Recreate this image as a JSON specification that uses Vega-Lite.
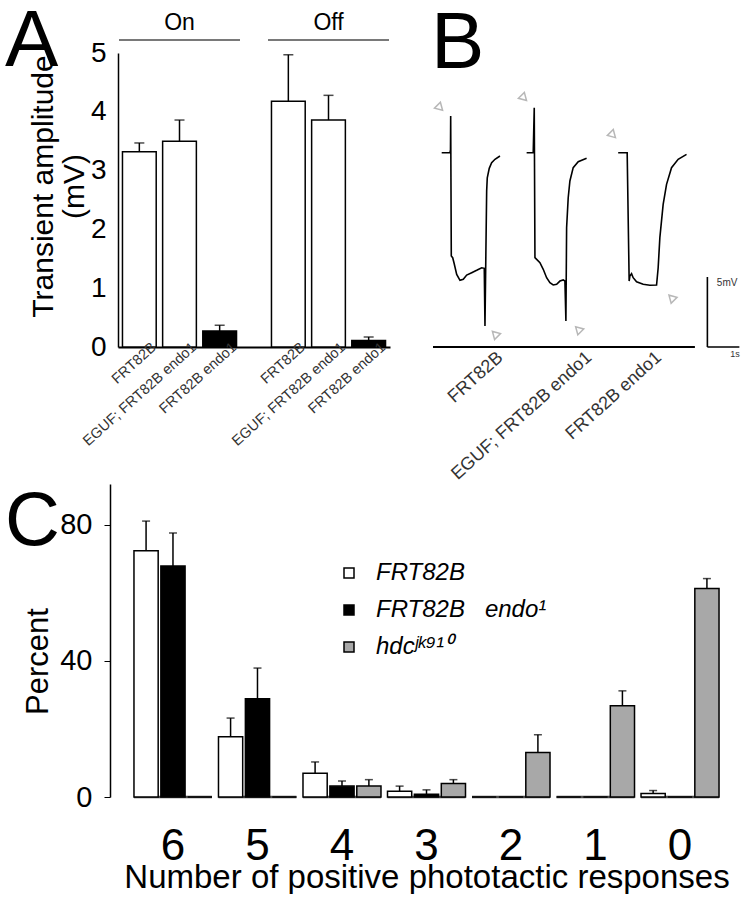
{
  "$schema": "https://vega.github.io/schema/vega-lite/v6.json",
  "background": "white",
  "padding": {"left": 5, "top": 2, "right": 0, "bottom": 0},
  "bounds": "full",
  "spacing": 0,
  "resolve": {"scale": {"xOffset": "independent", "fill": "independent", "shape": "independent"}},
  "config": {
    "view": {"stroke": null},
    "font": "Liberation Sans",
    "axis": {"labelColor": "black", "titleColor": "black", "domainColor": "black", "tickColor": "black", "grid": false, "titleFontWeight": "normal", "labelFont": "Liberation Sans", "titleFont": "Liberation Sans"},
    "title": {"fontSize": 80, "fontWeight": "normal", "anchor": "start", "frame": "group", "offset": 0, "color": "black", "font": "Liberation Sans"}
  },
  "datasets": {
    "a": [
      {"cond": "On", "geno": "FRT82B", "mean": 3.32, "hi": 3.47},
      {"cond": "On", "geno": "EGUF; FRT82B endo1", "mean": 3.50, "hi": 3.86},
      {"cond": "On", "geno": "FRT82B endo1", "mean": 0.27, "hi": 0.37},
      {"cond": "Off", "geno": "FRT82B", "mean": 4.18, "hi": 4.97},
      {"cond": "Off", "geno": "EGUF; FRT82B endo1", "mean": 3.86, "hi": 4.28},
      {"cond": "Off", "geno": "FRT82B endo1", "mean": 0.11, "hi": 0.17}
    ],
    "traces": [
      {"trace": 1, "i": 1, "t": 0.272, "v": 13.88},
      {"trace": 1, "i": 2, "t": 0.531, "v": 13.88},
      {"trace": 1, "i": 3, "t": 0.547, "v": 14.07},
      {"trace": 1, "i": 4, "t": 0.553, "v": 16.5},
      {"trace": 1, "i": 5, "t": 0.572, "v": 6.5},
      {"trace": 1, "i": 6, "t": 0.616, "v": 6.38},
      {"trace": 1, "i": 7, "t": 0.656, "v": 6.02},
      {"trace": 1, "i": 8, "t": 0.741, "v": 5.19},
      {"trace": 1, "i": 9, "t": 0.844, "v": 4.76},
      {"trace": 1, "i": 10, "t": 0.947, "v": 4.84},
      {"trace": 1, "i": 11, "t": 1.053, "v": 5.14},
      {"trace": 1, "i": 12, "t": 1.209, "v": 5.31},
      {"trace": 1, "i": 13, "t": 1.366, "v": 5.48},
      {"trace": 1, "i": 14, "t": 1.522, "v": 5.66},
      {"trace": 1, "i": 15, "t": 1.603, "v": 5.62},
      {"trace": 1, "i": 16, "t": 1.625, "v": 1.5},
      {"trace": 1, "i": 17, "t": 1.678, "v": 11.14},
      {"trace": 1, "i": 18, "t": 1.697, "v": 12.09},
      {"trace": 1, "i": 19, "t": 1.759, "v": 12.76},
      {"trace": 1, "i": 20, "t": 1.834, "v": 13.16},
      {"trace": 1, "i": 21, "t": 1.938, "v": 13.41},
      {"trace": 1, "i": 22, "t": 2.094, "v": 13.64},
      {"trace": 2, "i": 1, "t": 2.928, "v": 13.88},
      {"trace": 2, "i": 2, "t": 3.134, "v": 13.88},
      {"trace": 2, "i": 3, "t": 3.166, "v": 17.09},
      {"trace": 2, "i": 4, "t": 3.188, "v": 6.38},
      {"trace": 2, "i": 5, "t": 3.241, "v": 6.26},
      {"trace": 2, "i": 6, "t": 3.344, "v": 6.02},
      {"trace": 2, "i": 7, "t": 3.447, "v": 5.55},
      {"trace": 2, "i": 8, "t": 3.553, "v": 4.95},
      {"trace": 2, "i": 9, "t": 3.656, "v": 4.59},
      {"trace": 2, "i": 10, "t": 3.759, "v": 4.43},
      {"trace": 2, "i": 11, "t": 3.866, "v": 4.48},
      {"trace": 2, "i": 12, "t": 3.969, "v": 4.71},
      {"trace": 2, "i": 13, "t": 4.072, "v": 4.79},
      {"trace": 2, "i": 14, "t": 4.125, "v": 4.71},
      {"trace": 2, "i": 15, "t": 4.156, "v": 1.86},
      {"trace": 2, "i": 16, "t": 4.178, "v": 8.52},
      {"trace": 2, "i": 17, "t": 4.228, "v": 10.66},
      {"trace": 2, "i": 18, "t": 4.281, "v": 11.86},
      {"trace": 2, "i": 19, "t": 4.384, "v": 12.81},
      {"trace": 2, "i": 20, "t": 4.541, "v": 13.24},
      {"trace": 2, "i": 21, "t": 4.803, "v": 13.48},
      {"trace": 3, "i": 1, "t": 5.791, "v": 13.88},
      {"trace": 3, "i": 2, "t": 6.072, "v": 13.88},
      {"trace": 3, "i": 3, "t": 6.134, "v": 4.71},
      {"trace": 3, "i": 4, "t": 6.156, "v": 5.07},
      {"trace": 3, "i": 5, "t": 6.209, "v": 5.24},
      {"trace": 3, "i": 6, "t": 6.259, "v": 4.95},
      {"trace": 3, "i": 7, "t": 6.366, "v": 4.66},
      {"trace": 3, "i": 8, "t": 6.572, "v": 4.48},
      {"trace": 3, "i": 9, "t": 6.781, "v": 4.41},
      {"trace": 3, "i": 10, "t": 6.991, "v": 4.43},
      {"trace": 3, "i": 11, "t": 7.041, "v": 5.66},
      {"trace": 3, "i": 12, "t": 7.094, "v": 7.81},
      {"trace": 3, "i": 13, "t": 7.197, "v": 10.19},
      {"trace": 3, "i": 14, "t": 7.303, "v": 11.62},
      {"trace": 3, "i": 15, "t": 7.459, "v": 12.81},
      {"trace": 3, "i": 16, "t": 7.666, "v": 13.41},
      {"trace": 3, "i": 17, "t": 7.928, "v": 13.76}
    ],
    "arrows": [
      {"t": 0.219, "v": 17.09, "dir": "down"},
      {"t": 1.938, "v": 0.93, "dir": "up"},
      {"t": 2.844, "v": 17.79, "dir": "down"},
      {"t": 4.541, "v": 1.26, "dir": "up"},
      {"t": 5.625, "v": 15.14, "dir": "down"},
      {"t": 7.459, "v": 3.52, "dir": "up"}
    ],
    "c": [
      {"g": "6", "s": "FRT82B", "val": 72.4, "hi": 81.1},
      {"g": "6", "s": "FRT82B  endo¹", "val": 67.9, "hi": 77.6},
      {"g": "6", "s": "hdcʲᵏ⁹¹⁰", "val": 0, "hi": 0},
      {"g": "5", "s": "FRT82B", "val": 17.7, "hi": 23.2},
      {"g": "5", "s": "FRT82B  endo¹", "val": 28.9, "hi": 37.9},
      {"g": "5", "s": "hdcʲᵏ⁹¹⁰", "val": 0, "hi": 0},
      {"g": "4", "s": "FRT82B", "val": 7.0, "hi": 10.3},
      {"g": "4", "s": "FRT82B  endo¹", "val": 3.2, "hi": 4.7},
      {"g": "4", "s": "hdcʲᵏ⁹¹⁰", "val": 3.2, "hi": 5.1},
      {"g": "3", "s": "FRT82B", "val": 1.7, "hi": 3.2},
      {"g": "3", "s": "FRT82B  endo¹", "val": 0.8, "hi": 2.1},
      {"g": "3", "s": "hdcʲᵏ⁹¹⁰", "val": 4.0, "hi": 5.1},
      {"g": "2", "s": "FRT82B", "val": 0, "hi": 0},
      {"g": "2", "s": "FRT82B  endo¹", "val": 0, "hi": 0},
      {"g": "2", "s": "hdcʲᵏ⁹¹⁰", "val": 13.1, "hi": 18.3},
      {"g": "1", "s": "FRT82B", "val": 0, "hi": 0},
      {"g": "1", "s": "FRT82B  endo¹", "val": 0, "hi": 0},
      {"g": "1", "s": "hdcʲᵏ⁹¹⁰", "val": 26.8, "hi": 31.2},
      {"g": "0", "s": "FRT82B", "val": 1.0, "hi": 1.9},
      {"g": "0", "s": "FRT82B  endo¹", "val": 0, "hi": 0},
      {"g": "0", "s": "hdcʲᵏ⁹¹⁰", "val": 61.3, "hi": 64.2}
    ]
  },
  "vconcat": [
    {
      "hconcat": [
        {
          "width": 272,
          "height": 294,
          "title": {"text": "A", "dx": -113, "dy": 75},
          "encoding": {
            "x": {"field": "cond", "type": "nominal", "sort": ["On", "Off"], "scale": {"paddingInner": 0.2345, "paddingOuter": 0.03}, "axis": {"title": null, "labels": false, "ticks": false, "domain": true, "domainWidth": 2}}
          },
          "layer": [
            {
              "data": {"name": "a"},
              "mark": {"type": "bar", "stroke": "black", "strokeWidth": 1.5},
              "encoding": {
                "xOffset": {"field": "geno", "type": "nominal", "sort": ["FRT82B", "EGUF; FRT82B endo1", "FRT82B endo1"], "scale": {"paddingInner": 0.16, "paddingOuter": 0}},
                "y": {"field": "mean", "type": "quantitative", "scale": {"domain": [0, 5], "nice": false}, "axis": {"title": ["Transient amplitude", "(mV)"], "titleFontSize": 30, "titleLineHeight": 31, "titlePadding": 1, "titleY": 133, "values": [0, 1, 2, 3, 4, 5], "format": "d", "labelFontSize": 28, "labelPadding": 12, "ticks": false, "domainWidth": 1.5}},
                "fill": {"field": "geno", "type": "nominal", "scale": {"domain": ["FRT82B", "EGUF; FRT82B endo1", "FRT82B endo1"], "range": ["white", "white", "black"]}, "legend": null}
              }
            },
            {
              "data": {"name": "a"},
              "mark": {"type": "rule", "strokeWidth": 1.5, "color": "black"},
              "encoding": {
                "xOffset": {"field": "geno", "type": "nominal", "sort": ["FRT82B", "EGUF; FRT82B endo1", "FRT82B endo1"]},
                "y": {"field": "mean", "type": "quantitative"},
                "y2": {"field": "hi"}
              }
            },
            {
              "data": {"name": "a"},
              "mark": {"type": "tick", "orient": "horizontal", "size": 10, "thickness": 1.5, "color": "black"},
              "encoding": {
                "xOffset": {"field": "geno", "type": "nominal", "sort": ["FRT82B", "EGUF; FRT82B endo1", "FRT82B endo1"]},
                "y": {"field": "hi", "type": "quantitative"}
              }
            },
            {
              "data": {"name": "a"},
              "mark": {"type": "text", "angle": -42, "align": "right", "baseline": "middle", "dx": 12, "dy": 9, "fontSize": 14.5, "color": "#333"},
              "encoding": {
                "xOffset": {"field": "geno", "type": "nominal", "sort": ["FRT82B", "EGUF; FRT82B endo1", "FRT82B endo1"]},
                "y": {"datum": 0, "type": "quantitative"},
                "text": {"field": "geno"}
              }
            },
            {
              "data": {"values": [{"cond": "On"}, {"cond": "Off"}]},
              "mark": {"type": "text", "fontSize": 23, "baseline": "middle", "color": "black"},
              "encoding": {"y": {"datum": 5.51, "type": "quantitative"}, "text": {"field": "cond"}}
            },
            {
              "data": {"values": [{"cond": "On"}, {"cond": "Off"}]},
              "mark": {"type": "tick", "orient": "horizontal", "size": 121, "thickness": 1.5, "color": "black"},
              "encoding": {"y": {"datum": 5.22, "type": "quantitative"}}
            }
          ]
        },
        {
          "width": 307,
          "height": 294,
          "title": {"text": "B", "dx": -2, "dy": 36},
          "encoding": {
            "x": {"type": "quantitative", "scale": {"domain": [0, 9.6], "nice": false, "zero": false}, "axis": null},
            "y": {"type": "quantitative", "scale": {"domain": [0, 21], "nice": false}, "axis": null}
          },
          "layer": [
            {
              "data": {"values": [{"t0": 0, "t1": 8.19, "v": 0}]},
              "mark": {"type": "rule", "strokeWidth": 2, "color": "black"},
              "encoding": {"x": {"field": "t0", "type": "quantitative"}, "x2": {"field": "t1"}, "y": {"field": "v", "type": "quantitative"}}
            },
            {
              "data": {"name": "traces"},
              "mark": {"type": "line", "color": "black", "strokeWidth": 1.6},
              "encoding": {"x": {"field": "t", "type": "quantitative"}, "y": {"field": "v", "type": "quantitative"}, "detail": {"field": "trace"}, "order": {"field": "i"}}
            },
            {
              "data": {"name": "arrows"},
              "mark": {"type": "point", "filled": false, "angle": -45, "size": 70, "strokeWidth": 1.5, "color": "#9a9a9a"},
              "encoding": {"x": {"field": "t", "type": "quantitative"}, "y": {"field": "v", "type": "quantitative"}, "shape": {"field": "dir", "type": "nominal", "scale": {"domain": ["down", "up"], "range": ["triangle-down", "triangle-up"]}, "legend": null}}
            },
            {
              "data": {"values": [{"x1": 8.58, "x2": 8.58, "y1": 0, "y2": 5}, {"x1": 8.58, "x2": 9.58, "y1": 0, "y2": 0}]},
              "mark": {"type": "rule", "strokeWidth": 1.6, "color": "black"},
              "encoding": {"x": {"field": "x1", "type": "quantitative"}, "x2": {"field": "x2"}, "y": {"field": "y1", "type": "quantitative"}, "y2": {"field": "y2"}}
            },
            {
              "data": {"values": [{"t": 8.875, "v": 4.57, "lab": "5mV"}]},
              "mark": {"type": "text", "align": "left", "baseline": "middle", "fontSize": 10, "color": "#333"},
              "encoding": {"x": {"field": "t", "type": "quantitative"}, "y": {"field": "v", "type": "quantitative"}, "text": {"field": "lab"}}
            },
            {
              "data": {"values": [{"t": 9.44, "v": 0, "lab": "1s"}]},
              "mark": {"type": "text", "align": "center", "baseline": "top", "dy": 3, "fontSize": 9, "color": "#333"},
              "encoding": {"x": {"field": "t", "type": "quantitative"}, "y": {"field": "v", "type": "quantitative"}, "text": {"field": "lab"}}
            },
            {
              "data": {"values": [{"t": 1.88, "v": 0, "lab": "FRT82B"}, {"t": 4.66, "v": 0, "lab": "EGUF; FRT82B endo1"}, {"t": 6.84, "v": 0, "lab": "FRT82B endo1"}]},
              "mark": {"type": "text", "angle": -42, "align": "right", "baseline": "middle", "dy": 11, "fontSize": 18, "color": "#333"},
              "encoding": {"x": {"field": "t", "type": "quantitative"}, "y": {"field": "v", "type": "quantitative"}, "text": {"field": "lab"}}
            }
          ]
        }
      ],
      "spacing": 43,
      "bounds": "flush",
      "resolve": {"scale": {"xOffset": "independent", "fill": "independent", "shape": "independent"}}
    },
    {
      "width": 617,
      "height": 313,
      "title": {"text": "C", "dx": -113, "dy": 81, "fontSize": 76},
      "encoding": {
        "x": {"field": "g", "type": "nominal", "sort": ["6", "5", "4", "3", "2", "1", "0"], "scale": {"paddingInner": 0.077, "paddingOuter": 0.189}, "axis": {"title": "Number of positive phototactic responses", "titleFontSize": 33, "titlePadding": -7, "labelFontSize": 44, "labelAngle": 0, "labelPadding": 27, "ticks": false, "domain": false}}
      },
      "layer": [
        {
          "data": {"values": [{"g": "6"}, {"g": "5"}, {"g": "4"}, {"g": "3"}, {"g": "2"}, {"g": "1"}, {"g": "0"}]},
          "mark": {"type": "tick", "orient": "horizontal", "size": 78, "thickness": 2.5, "color": "black"},
          "encoding": {"y": {"datum": 0, "type": "quantitative"}}
        },
        {
          "data": {"name": "c"},
          "mark": {"type": "bar", "stroke": "black", "strokeWidth": 1.5},
          "encoding": {
            "xOffset": {"field": "s", "type": "nominal", "sort": ["FRT82B", "FRT82B  endo¹", "hdcʲᵏ⁹¹⁰"], "scale": {"paddingInner": 0.1, "paddingOuter": 0}},
            "y": {"field": "val", "type": "quantitative", "scale": {"domain": [0, 92], "nice": false}, "axis": {"title": "Percent", "titleFontSize": 31, "titlePadding": 5, "titleY": 177, "values": [0, 40, 80], "labelFontSize": 29, "labelPadding": 12, "tickSize": 6, "offset": 8, "domainWidth": 1.5}},
            "fill": {"field": "s", "type": "nominal", "scale": {"domain": ["FRT82B", "FRT82B  endo¹", "hdcʲᵏ⁹¹⁰"], "range": ["white", "black", "#a8a8a8"]}, "legend": {"title": null, "orient": "none", "legendX": 219, "legendY": 77, "symbolType": "square", "symbolSize": 100, "symbolStrokeColor": "black", "symbolStrokeWidth": 1.5, "labelFontSize": 24, "labelFontStyle": "italic", "labelColor": "black", "labelOffset": 15, "rowPadding": 13, "labelLimit": 300, "labelExpr": "replace(datum.label, '  ', '\u00a0\u00a0\u00a0')"}}
          }
        },
        {
          "data": {"name": "c"},
          "transform": [{"filter": "datum.hi > datum.val"}],
          "mark": {"type": "rule", "strokeWidth": 1.5, "color": "black"},
          "encoding": {
            "xOffset": {"field": "s", "type": "nominal", "sort": ["FRT82B", "FRT82B  endo¹", "hdcʲᵏ⁹¹⁰"]},
            "y": {"field": "val", "type": "quantitative"},
            "y2": {"field": "hi"}
          }
        },
        {
          "data": {"name": "c"},
          "transform": [{"filter": "datum.hi > datum.val"}],
          "mark": {"type": "tick", "orient": "horizontal", "size": 8, "thickness": 1.5, "color": "black"},
          "encoding": {
            "xOffset": {"field": "s", "type": "nominal", "sort": ["FRT82B", "FRT82B  endo¹", "hdcʲᵏ⁹¹⁰"]},
            "y": {"field": "hi", "type": "quantitative"}
          }
        }
      ]
    }
  ]
}
